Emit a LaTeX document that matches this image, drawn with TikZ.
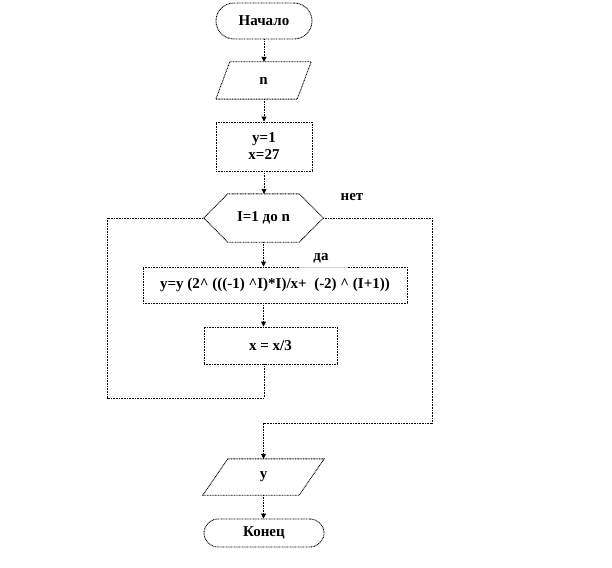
\documentclass[tikz,border=0pt]{standalone}
\usepackage{fontspec}
\setmainfont{Liberation Serif}
\usetikzlibrary{arrows.meta,calc}
\begin{document}
\begin{tikzpicture}[x=1pt,y=-1pt,
  line/.style={line width=0.9pt, dash pattern=on 0.9pt off 0.7pt},
  arr/.style={line, -{Triangle[length=5pt,width=5pt]}},
  lbl/.style={font=\fontsize{15}{17}\selectfont\bfseries, align=center, inner sep=0pt},
  term/.style={draw, line, lbl, minimum width=#1, minimum height=28pt},
  procbox/.style={draw, line, lbl},
  ghost/.style={lbl}
]
\useasboundingbox (0,0) rectangle (612,567);

% nodes
\node[term=96pt, minimum height=36pt, rounded corners=18pt] (start) at (264,21) {Начало};
\node[ghost, minimum width=95pt, minimum height=37pt] (inp) at (263.5,80.5) {n};
\node[procbox, minimum width=96pt, minimum height=49pt] (init) at (264,146.5) {y=1\\x=27};
\node[ghost, minimum width=119pt, minimum height=48pt] (hex) at (263.5,218) {I=1 до n};
\node[procbox, minimum width=264pt, minimum height=36pt] (body) at (275,285) {y=y (2\^{} (((-1) \^{}I)*I)/x+ \ (-2) \^{} (I+1))};
\node[procbox, minimum width=133pt, minimum height=37pt] (upd) at (270.5,345.5) {x = x/3};
\node[ghost, minimum width=121pt, minimum height=36pt] (out) at (263.5,477) {y};
\node[term=120pt, rounded corners=14pt] (end) at (264,533) {Конец};

% shapes drawn around ghost nodes
\draw[line] ($(inp.north west)+(14,0)$) -- (inp.north east) -- ($(inp.south east)-(14,0)$) -- (inp.south west) -- cycle;
\draw[line] (hex.west) -- ($(hex.north west)+(24,0)$) -- ($(hex.north east)-(24,0)$) -- (hex.east) -- ($(hex.south east)-(24,0)$) -- ($(hex.south west)+(24,0)$) -- cycle;
\draw[line] ($(out.north west)+(25,0)$) -- (out.north east) -- ($(out.south east)-(25,0)$) -- (out.south west) -- cycle;

% labels
\node[lbl] (no) at (352,197) {нет};
\node[lbl] (yes) at (321,258) {да};
\draw[gray!40, line width=1pt] (299,267) -- (348,267);

% connectors
\draw[arr] (start.south) -- (start.south |- inp.north);
\draw[arr] (start.south |- inp.south) -- (start.south |- init.north);
\draw[arr] (init.south) -- (init.south |- hex.north);
\draw[arr] (hex.south) -- (hex.south |- body.north);
\draw[arr] (hex.south |- body.south) -- (hex.south |- upd.north);
\draw[arr] (out.north |- out.south) -- (out.north |- end.north);

\coordinate (lb) at (107,398);
\coordinate (rb) at (432,423);
\draw[line] (start.south |- upd.south) |- (lb) |- (hex.west);
\draw[arr] (hex.east) -| (rb) -| (out.north);
\end{tikzpicture}
\end{document}
